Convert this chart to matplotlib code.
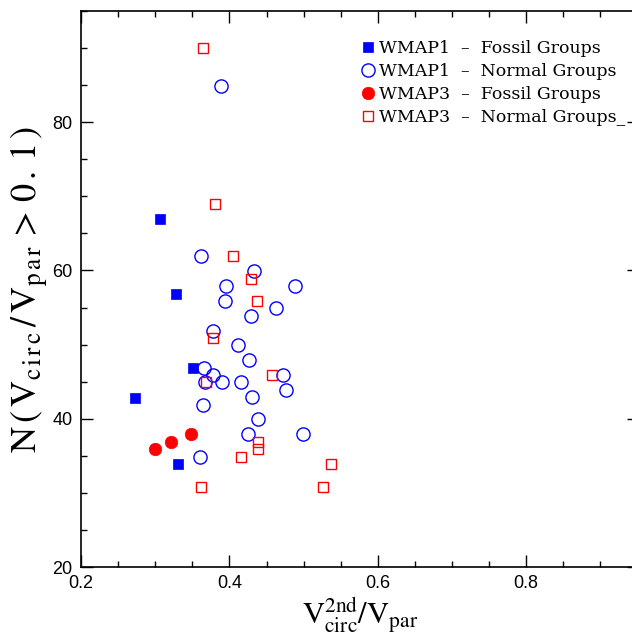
import matplotlib
matplotlib.use("Agg")
import matplotlib.pyplot as plt
from matplotlib.ticker import MultipleLocator

plt.rcParams['mathtext.fontset'] = 'stix'

# WMAP1 - Fossil Groups (blue filled squares)
w1_fossil_x = [0.273, 0.306, 0.328, 0.351, 0.331]
w1_fossil_y = [42.8, 66.9, 56.8, 46.8, 33.9]

# WMAP1 - Normal Groups (blue open circles)
w1_normal_x = [0.389, 0.362, 0.433, 0.395, 0.488, 0.394, 0.463, 0.429, 0.378, 0.411,
               0.427, 0.366, 0.378, 0.472, 0.367, 0.390, 0.415, 0.476, 0.430, 0.365,
               0.438, 0.425, 0.499, 0.360]
w1_normal_y = [84.9, 61.9, 59.9, 57.9, 57.9, 55.9, 54.9, 53.9, 51.9, 49.9,
               47.9, 46.9, 45.9, 45.9, 44.9, 44.9, 44.9, 43.9, 42.9, 41.9,
               39.9, 37.9, 37.9, 34.9]

# WMAP3 - Fossil Groups (red filled circles)
w3_fossil_x = [0.300, 0.321, 0.348]
w3_fossil_y = [35.9, 36.9, 37.9]

# WMAP3 - Normal Groups (red open squares)
w3_normal_x = [0.364, 0.380, 0.405, 0.429, 0.437, 0.378, 0.457, 0.368, 0.438, 0.438,
               0.416, 0.537, 0.526, 0.362]
w3_normal_y = [90.0, 68.9, 61.9, 58.9, 55.9, 50.9, 45.9, 44.9, 36.9, 35.9,
               34.9, 33.9, 30.8, 30.8]

labels = ["WMAP1  \u2013  Fossil Groups",
          "WMAP1  \u2013  Normal Groups",
          "WMAP3  \u2013  Fossil Groups",
          "WMAP3  \u2013  Normal Groups_"]

fig = plt.figure(figsize=(6.32, 6.36), dpi=100)
ax = fig.add_axes([81/632, 69/636, (639-81)/632, (567-11)/636])

h1, = ax.plot(w1_fossil_x, w1_fossil_y, ls='none', marker='s', ms=7,
              mfc='#0000ff', mec='#0000ff', mew=0.5)
h2, = ax.plot(w1_normal_x, w1_normal_y, ls='none', marker='o', ms=9.5,
              mfc='none', mec='#0000ff', mew=1.0)
h3, = ax.plot(w3_fossil_x, w3_fossil_y, ls='none', marker='o', ms=9,
              mfc='#ff0000', mec='#ff0000', mew=0.5)
h4, = ax.plot(w3_normal_x, w3_normal_y, ls='none', marker='s', ms=7.2,
              mfc='none', mec='#ff0000', mew=1.0)

ax.set_xlim(0.2, 0.952)
ax.set_ylim(20, 95)

ax.xaxis.set_major_locator(MultipleLocator(0.2))
ax.xaxis.set_minor_locator(MultipleLocator(0.05))
ax.yaxis.set_major_locator(MultipleLocator(20))
ax.yaxis.set_minor_locator(MultipleLocator(5))
ax.tick_params(which='both', direction='in', top=True, right=True, width=1.0,
               labelsize=13, pad=6)
ax.tick_params(which='major', length=8.5)
ax.tick_params(which='minor', length=4.3)
for lab in ax.get_xticklabels() + ax.get_yticklabels():
    lab.set_family('Liberation Sans')
for s in ax.spines.values():
    s.set_linewidth(1.2)
ax.spines['right'].set_visible(False)

ax.set_xlabel(r'$\mathrm{V_{circ}^{2nd}/V_{par}}$', fontsize=22, labelpad=2)
ax.set_ylabel(r'$\mathrm{N\,(\,V_{c\,i\,r\,c}\,/\,V_{p\,a\,r}\,>\,0\,.\,1\,)}$',
              fontsize=26, labelpad=2)

leg = ax.legend([h1, h2, h3, h4], labels, loc='upper left',
                bbox_to_anchor=(0.484, 0.96), frameon=False,
                prop={'family': 'DejaVu Serif', 'size': 12.5},
                handletextpad=0.1, handlelength=1.1, labelspacing=0.34,
                borderaxespad=0)

fig.savefig('out.png', dpi=100)
